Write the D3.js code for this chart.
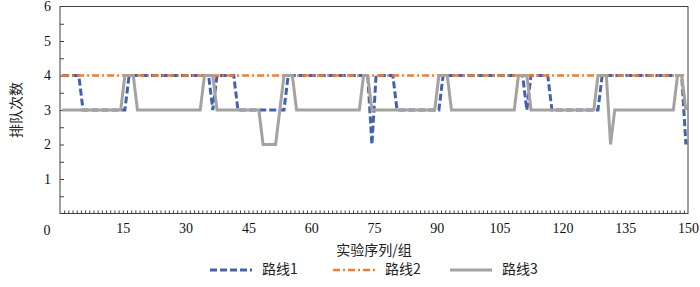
<!DOCTYPE html>
<html>
<head>
<meta charset="utf-8">
<script src="https://cdn.jsdelivr.net/npm/d3@7"></script>
<style>
  body { margin: 0; background: #fff; }
  svg { display: block; }
</style>
</head>
<body>
<div class="vis"></div>
<script>
  let width = 700
  let height = 287
  let margin = { top: 6.5, right: 12, bottom: 73.5, left: 60 }

  // groups 1..150 (experiment sequence)
  let groups = d3.range(1, 151)

  let route1 = [
    4,4,4,4,4,3,3,3,3,3, 3,3,3,3,3,3,4,4,4,4, 4,4,4,4,4,4,4,4,4,4,
    4,4,4,4,4,4,3,4,4,4, 4,4,3,3,3,3,3,3,3,3, 3,3,3,3,4,4,4,4,4,4,
    4,4,4,4,4,4,4,4,4,4, 4,4,4,4,2,4,4,4,4,4, 3,3,3,3,3,3,3,3,3,3,
    3,4,4,4,4,4,4,4,4,4, 4,4,4,4,4,4,4,4,4,4, 4,3,4,4,4,4,4,3,3,3,
    3,3,3,3,3,3,3,3,3,4, 4,4,4,4,4,4,4,4,4,4, 4,4,4,4,4,4,4,4,4,2
  ]
  let route2 = [
    4,4,4,4,4,4,4,4,4,4, 4,4,4,4,4,4,4,4,4,4, 4,4,4,4,4,4,4,4,4,4,
    4,4,4,4,4,4,4,4,4,4, 4,4,4,4,4,4,4,4,4,4, 4,4,4,4,4,4,4,4,4,4,
    4,4,4,4,4,4,4,4,4,4, 4,4,4,4,4,4,4,4,4,4, 4,4,4,4,4,4,4,4,4,4,
    4,4,4,4,4,4,4,4,4,4, 4,4,4,4,4,4,4,4,4,4, 4,4,4,4,4,4,4,4,4,4,
    4,4,4,4,4,4,4,4,4,4, 4,4,4,4,4,4,4,4,4,4, 4,4,4,4,4,4,4,4,4,4
  ]
  let route3 = [
    3,3,3,3,3,3,3,3,3,3, 3,3,3,3,3,4,4,4,3,3, 3,3,3,3,3,3,3,3,3,3,
    3,3,3,3,4,4,4,3,3,3, 3,3,3,3,3,3,3,3,2,2, 2,2,3,4,4,4,3,3,3,3,
    3,3,3,3,3,3,3,3,3,3, 3,3,4,4,3,3,3,3,3,3, 3,3,3,3,3,3,3,3,3,3,
    4,4,4,3,3,3,3,3,3,3, 3,3,3,3,3,3,3,3,3,4, 4,4,3,3,3,3,3,3,3,3,
    3,3,3,3,3,3,3,3,4,4, 4,2,3,3,3,3,3,3,3,3, 3,3,3,3,3,3,3,4,4,3
  ]

  let seriesNames = ['路线1', '路线2', '路线3']
  let xTicks = [15, 30, 45, 60, 75, 90, 105, 120, 135, 150]
  let yTicks = [1, 2, 3, 4, 5, 6]

  let styles = [
    { color: '#4262ae', dash: '7,3', width: 3 },
    { color: '#ed7d31', dash: '7,3,2,3', width: 2.5 },
    { color: '#a6a29f', dash: null, width: 3 }
  ]

  let svg = d3.select('.vis').append('svg')
    .attr('width', width).attr('height', height)

  let x = d3.scaleLinear().domain([0, 150]).range([margin.left, width - margin.right])
  let y = d3.scaleLinear().domain([0, 6]).range([height - margin.bottom, margin.top])

  let serif = '"Liberation Serif", "Times New Roman", serif'
  let cjk = '"Noto Sans CJK SC", sans-serif'

  // inner minor ticks
  svg.append('g')
    .attr('transform', `translate(0,${y(0)})`)
    .call(d3.axisTop(x).tickValues(d3.range(1, 150)).tickSize(3).tickFormat(''))
    .call(g => g.select('.domain').remove())
    .call(g => g.selectAll('line').attr('stroke', '#404040'))

  svg.append('g')
    .attr('transform', `translate(${x(0)},0)`)
    .call(d3.axisRight(y).tickValues(d3.range(0.5, 6, 0.5)).tickSize(4).tickFormat(''))
    .call(g => g.select('.domain').remove())
    .call(g => g.selectAll('line').attr('stroke', '#404040'))

  // tick labels
  svg.append('g')
    .attr('transform', `translate(0,${y(0)})`)
    .call(d3.axisBottom(x).tickValues(xTicks).tickSize(0).tickPadding(10).tickFormat(d3.format('d')))
    .call(g => g.select('.domain').remove())
    .call(g => g.selectAll('text').attr('font-family', serif).attr('font-size', 14).attr('fill', '#111'))

  svg.append('g')
    .attr('transform', `translate(${x(0) - 9},0)`)
    .call(d3.axisLeft(y).tickValues(yTicks).tickSize(0).tickPadding(0).tickFormat(d3.format('d')))
    .call(g => g.select('.domain').remove())
    .call(g => g.selectAll('text').attr('font-family', serif).attr('font-size', 14).attr('fill', '#111'))

  svg.append('text')
    .attr('x', x(0) - 13).attr('y', y(0) + 21)
    .attr('text-anchor', 'middle')
    .attr('font-family', serif).attr('font-size', 14).attr('fill', '#111')
    .text('0')

  // lines
  let line = d3.line()
    .x((d, i) => x(groups[i] - 0.5))
    .y(d => y(d))

  ;[route1, route2, route3].forEach((vals, i) => {
    svg.append('path')
      .datum(vals)
      .attr('d', line)
      .attr('fill', 'none')
      .attr('stroke', styles[i].color)
      .attr('stroke-width', styles[i].width)
      .attr('stroke-dasharray', styles[i].dash)
      .attr('stroke-linejoin', 'miter')
  })

  // frame
  svg.append('rect')
    .attr('x', x(0)).attr('y', y(6))
    .attr('width', x(150) - x(0)).attr('height', y(0) - y(6))
    .attr('fill', 'none').attr('stroke', '#404040').attr('stroke-width', 1)

  // axis titles
  svg.append('text')
    .attr('transform', `translate(17,${(y(0) + y(6)) / 2})rotate(-90)`)
    .attr('text-anchor', 'middle').attr('dominant-baseline', 'middle')
    .attr('font-family', cjk).attr('font-size', 14).attr('fill', '#222')
    .text('排队次数')

  svg.append('text')
    .attr('x', 374).attr('y', 251)
    .attr('text-anchor', 'middle').attr('dominant-baseline', 'middle')
    .attr('font-family', cjk).attr('font-size', 14).attr('fill', '#222')
    .text('实验序列/组')

  // legend
  let legendX = [210, 333, 450]
  let legend = svg.append('g').selectAll('g')
    .data(seriesNames)
    .join('g')
    .attr('transform', (d, i) => `translate(${legendX[i]},270)`)

  legend.append('line')
    .attr('x1', 0).attr('x2', 42).attr('y1', 0).attr('y2', 0)
    .attr('stroke', (d, i) => styles[i].color)
    .attr('stroke-width', (d, i) => styles[i].width)
    .attr('stroke-dasharray', (d, i) => styles[i].dash)

  legend.append('text')
    .attr('x', 52).attr('y', 0)
    .attr('dominant-baseline', 'middle')
    .attr('font-family', cjk).attr('font-size', 14).attr('fill', '#222')
    .text(d => d)
</script>
</body>
</html>
